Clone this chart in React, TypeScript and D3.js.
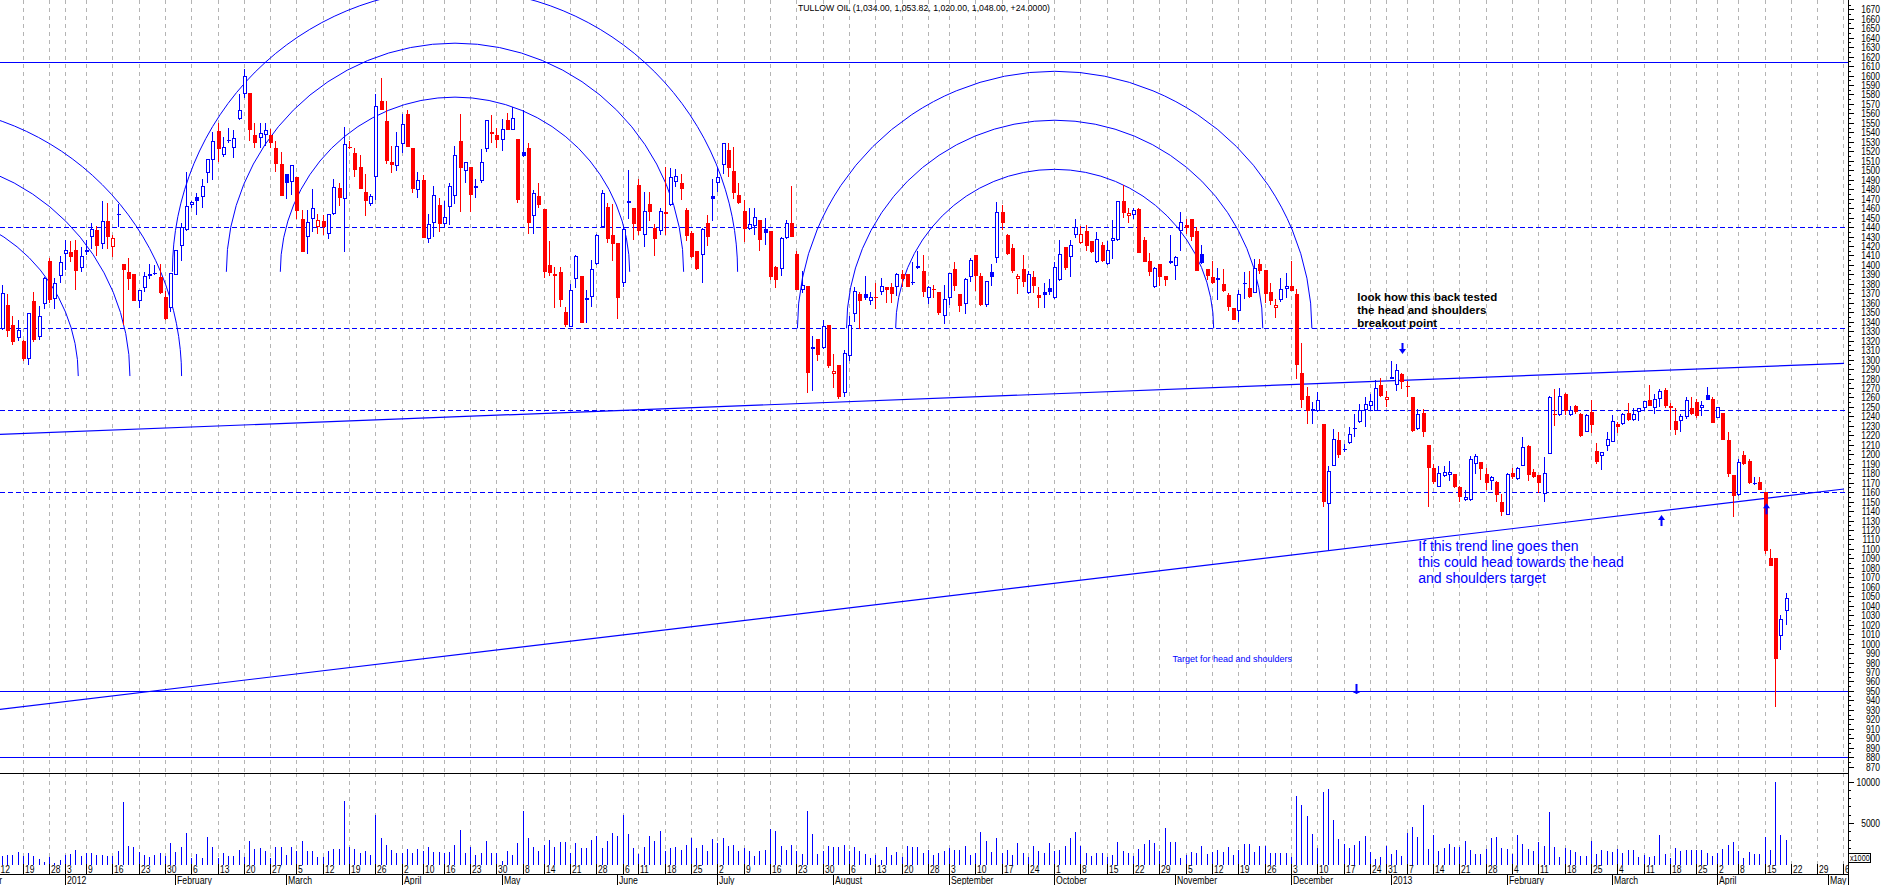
import React from 'react';
import * as d3 from 'd3';

const FONT = '"Liberation Sans", Arial, Helvetica, sans-serif';
const BLUE = '#0000ff';
const RED = '#ff0000';
const GRID = '#b4b4b4';

const TITLE = 'TULLOW OIL (1,034.00, 1,053.82, 1,020.00, 1,048.00, +24.0000)';
const FIRST_CANDLE_INDEX = 1; // index 0 = 12 Dec 2011
const ANCHOR_DATE = '2011-12-12';
const CALENDAR_START = '2011-12-01';
const CALENDAR_END = '2013-05-10';
const LAST_DATA_DATE = '2013-04-19';
const ukHolidays = ['2011-12-26', '2011-12-27', '2012-01-02', '2012-04-06', '2012-04-09', '2012-05-07', '2012-06-04', '2012-06-05', '2012-08-27', '2012-12-25', '2012-12-26', '2013-01-01', '2013-03-29', '2013-04-01'];
const monthNames = ['January', 'February', 'March', 'April', 'May', 'June', 'July', 'August', 'September', 'October', 'November', 'December'];

const opens = [1332,1358,1337,1323,1320,1301,1362,1324,1359,1404,1364,1388,1412,1414,1416,1397,1416,1429,1437,1422,1446,1419,1453,1401,1392,1390,1362,1376,1388,1390,1387,1366,1355,1389,1420,1437,1463,1472,1472,1497,1511,1541,1516,1531,1524,1554,1581,1582,1537,1534,1537,1537,1524,1507,1496,1488,1493,1449,1429,1448,1440,1446,1433,1454,1481,1470,1525,1518,1503,1477,1464,1493,1573,1552,1509,1504,1528,1559,1523,1479,1490,1427,1444,1463,1443,1461,1473,1531,1499,1503,1483,1489,1522,1540,1537,1532,1553,1543,1533,1519,1524,1452,1473,1459,1400,1388,1393,1350,1334,1385,1388,1363,1366,1401,1440,1461,1432,1423,1381,1465,1460,1484,1432,1464,1439,1436,1456,1463,1488,1487,1458,1434,1415,1410,1444,1473,1486,1505,1521,1499,1474,1457,1438,1441,1447,1438,1436,1398,1396,1428,1444,1412,1374,1378,1311,1322,1312,1337,1285,1294,1265,1304,1348,1369,1369,1362,1366,1371,1377,1377,1377,1390,1390,1381,1397,1394,1365,1375,1371,1346,1365,1396,1369,1359,1387,1410,1388,1358,1392,1407,1456,1432,1418,1385,1396,1370,1387,1368,1371,1376,1365,1384,1419,1408,1432,1423,1436,1425,1403,1421,1401,1425,1426,1468,1452,1453,1459,1426,1404,1377,1401,1388,1402,1399,1436,1442,1448,1436,1412,1396,1387,1384,1380,1368,1355,1351,1380,1376,1370,1401,1395,1371,1355,1363,1375,1378,1369,1286,1262,1246,1246,1232,1147,1188,1215,1205,1212,1227,1234,1247,1251,1246,1273,1257,1280,1273,1285,1272,1260,1227,1244,1210,1186,1165,1177,1178,1179,1165,1152,1152,1190,1192,1179,1172,1171,1150,1136,1180,1174,1188,1209,1181,1178,1158,1200,1242,1241,1264,1241,1251,1243,1224,1245,1203,1198,1209,1213,1232,1232,1244,1236,1245,1249,1257,1249,1258,1268,1251,1235,1235,1239,1249,1255,1249,1263,1258,1238,1244,1215,1178,1157,1199,1193,1170,1171,1160,1090,1090,1008,1034];
const highs = [1379,1369,1346,1342,1321,1349,1371,1357,1387,1407,1386,1409,1426,1425,1426,1419,1426,1444,1441,1468,1465,1432,1464,1401,1407,1390,1374,1393,1401,1400,1401,1372,1391,1416,1444,1498,1468,1476,1491,1512,1540,1550,1535,1545,1542,1580,1607,1582,1550,1550,1550,1544,1531,1519,1496,1505,1493,1458,1458,1480,1454,1453,1454,1491,1486,1546,1531,1523,1516,1496,1475,1580,1597,1573,1526,1540,1559,1564,1523,1498,1495,1454,1483,1471,1467,1486,1526,1559,1509,1503,1491,1522,1553,1558,1545,1554,1560,1567,1533,1564,1529,1479,1486,1459,1425,1398,1398,1356,1380,1410,1388,1374,1405,1433,1479,1465,1464,1423,1441,1500,1460,1491,1477,1477,1443,1460,1503,1502,1501,1496,1460,1436,1415,1439,1453,1491,1503,1529,1529,1525,1487,1469,1460,1460,1447,1450,1436,1399,1429,1447,1483,1415,1394,1378,1325,1322,1342,1337,1306,1294,1310,1346,1377,1371,1388,1371,1381,1386,1377,1381,1391,1395,1390,1403,1415,1410,1378,1379,1371,1379,1391,1403,1369,1386,1407,1410,1391,1383,1401,1466,1463,1433,1422,1390,1410,1394,1394,1377,1381,1385,1403,1426,1419,1426,1448,1441,1442,1425,1435,1424,1425,1447,1468,1484,1460,1460,1460,1429,1413,1398,1401,1388,1432,1409,1456,1448,1448,1440,1421,1396,1404,1397,1396,1370,1355,1374,1393,1394,1406,1406,1395,1381,1364,1386,1391,1404,1375,1317,1271,1255,1266,1232,1188,1227,1223,1211,1229,1243,1253,1260,1264,1278,1281,1267,1298,1295,1286,1277,1260,1248,1248,1210,1190,1188,1188,1193,1179,1166,1162,1198,1200,1192,1185,1177,1172,1158,1180,1185,1187,1218,1210,1184,1178,1197,1262,1269,1270,1265,1251,1252,1244,1242,1257,1212,1202,1223,1241,1234,1244,1254,1249,1249,1256,1273,1264,1269,1270,1254,1249,1242,1260,1260,1258,1256,1271,1260,1250,1244,1223,1178,1195,1203,1195,1176,1176,1160,1100,1090,1030,1053.82];
const lows = [1331,1324,1315,1320,1298,1294,1319,1321,1353,1360,1353,1381,1395,1403,1373,1393,1410,1417,1409,1417,1417,1408,1440,1337,1374,1362,1355,1371,1385,1389,1369,1342,1350,1389,1404,1436,1460,1453,1460,1486,1490,1509,1514,1529,1513,1553,1576,1531,1524,1523,1526,1523,1498,1473,1470,1474,1448,1414,1411,1435,1433,1432,1427,1453,1462,1414,1522,1493,1480,1452,1462,1469,1564,1507,1497,1499,1518,1525,1476,1471,1428,1423,1429,1435,1440,1442,1464,1456,1487,1456,1471,1487,1519,1529,1524,1520,1543,1543,1465,1514,1433,1433,1460,1386,1388,1355,1356,1334,1334,1376,1339,1339,1356,1400,1439,1423,1404,1343,1377,1449,1426,1432,1419,1446,1409,1432,1432,1462,1482,1469,1425,1407,1395,1381,1420,1446,1477,1496,1493,1470,1464,1424,1437,1432,1415,1421,1384,1376,1388,1427,1429,1374,1370,1265,1267,1298,1311,1291,1270,1258,1260,1298,1340,1332,1363,1358,1353,1368,1360,1360,1367,1377,1377,1379,1396,1366,1359,1365,1347,1338,1358,1372,1350,1348,1382,1372,1357,1356,1378,1402,1437,1410,1391,1369,1377,1369,1370,1354,1354,1368,1364,1383,1395,1387,1428,1422,1415,1413,1402,1403,1400,1406,1425,1450,1444,1448,1413,1403,1388,1376,1378,1378,1401,1384,1415,1433,1425,1394,1401,1384,1380,1363,1371,1351,1342,1340,1364,1365,1370,1390,1360,1358,1344,1361,1365,1372,1279,1249,1232,1232,1245,1144,1099,1188,1196,1202,1211,1218,1233,1229,1247,1246,1261,1250,1279,1267,1269,1260,1224,1226,1218,1144,1169,1165,1176,1172,1164,1150,1151,1151,1179,1173,1162,1162,1150,1135,1136,1174,1173,1188,1172,1175,1159,1150,1200,1230,1240,1241,1240,1243,1218,1223,1222,1190,1183,1203,1213,1222,1231,1235,1235,1235,1247,1251,1243,1250,1249,1226,1220,1224,1237,1241,1238,1240,1257,1233,1238,1215,1176,1134,1156,1189,1169,1168,1162,1095,1082,933,993,1020];
const closes = [1370,1330,1319,1331,1301,1349,1321,1346,1386,1363,1381,1403,1416,1408,1394,1409,1414,1438,1420,1446,1429,1428,1454,1395,1385,1362,1374,1388,1390,1391,1370,1343,1391,1416,1440,1462,1466,1467,1483,1512,1531,1522,1525,1532,1534,1564,1599,1542,1529,1539,1542,1529,1507,1473,1486,1505,1457,1414,1445,1460,1447,1440,1454,1482,1471,1528,1524,1500,1480,1468,1473,1568,1564,1510,1505,1526,1549,1525,1480,1490,1428,1443,1474,1443,1451,1483,1516,1502,1509,1474,1481,1509,1553,1538,1532,1544,1543,1555,1469,1515,1444,1476,1463,1393,1391,1390,1363,1337,1374,1409,1339,1365,1396,1432,1476,1427,1422,1365,1438,1468,1443,1436,1457,1456,1427,1457,1454,1493,1494,1480,1431,1408,1396,1438,1430,1470,1493,1529,1502,1476,1465,1438,1443,1451,1426,1434,1387,1384,1428,1444,1430,1374,1379,1286,1313,1305,1335,1293,1288,1260,1307,1336,1372,1362,1365,1366,1365,1378,1373,1369,1390,1385,1377,1382,1399,1371,1377,1373,1349,1364,1391,1378,1357,1385,1405,1388,1358,1383,1387,1456,1444,1411,1394,1388,1382,1390,1378,1365,1368,1371,1398,1411,1397,1421,1440,1433,1420,1414,1427,1404,1416,1428,1468,1455,1454.5,1458,1413,1403,1393,1397,1387,1384,1404,1408,1445,1439,1430,1394,1402,1388,1381,1386,1372,1356,1342,1369,1381,1366,1397,1394,1369,1362,1358,1375,1378,1372,1294,1257,1246,1248,1257,1150,1182,1216,1199,1206,1221,1228,1247,1253,1256,1270,1262,1260,1282,1289,1276,1271,1225,1243,1224,1186,1171,1180,1181,1181,1165,1155,1155,1195,1198,1184,1170,1176,1157,1139,1179,1176,1185,1208,1178,1176,1170,1180,1260,1241,1262,1246,1247,1245,1219,1241,1231,1192,1202,1216,1235,1229,1243,1236,1243,1249,1256,1251,1258,1267,1251,1249,1226,1240,1257,1242,1240,1252,1257,1233,1250,1215,1179,1156,1192,1190,1170,1170,1162,1098,1082,984,1026,1048];
const volumes = [985,1182,1182,1458,985,1379,985,709,300,867,200,600,1103,1261,1773,985,1340,1340,1182,1182,985,985,1576,7500,2285,2049,1458,1182,867,1182,1379,985,2561,1497,2049,3841,788,1261,800,3349,2167,788,1379,985,985,1773,867,2836,1891,1970,1655,788,2049,2049,1182,2167,1655,2836,1576,1655,867,867,1576,1891,1891,7700,2049,1891,1379,1655,1103,6000,3231,2364,1773,1379,1379,1891,1379,1891,1655,2049,1497,1497,1379,1497,2364,4137,1379,2049,1103,1379,2836,1379,1379,473,1655,1103,2561,6500,3231,2167,1576,2364,2955,2167,2679,2758,1379,2561,1970,1970,2955,3467,1970,2836,3841,3467,6000,3700,1970,1261,2167,3467,2836,4019,1576,1970,2167,1773,2364,3231,1970,2364,1576,3034,2561,3152,2285,2364,1655,1970,1576,985,1655,1773,4255,4019,2285,1773,2364,1655,1261,6500,3625,1300,1655,2285,2167,2049,2364,1655,2049,1576,1261,788,1103,591,2049,1103,1458,867,2285,2049,2167,1379,1773,1103,1379,1655,1970,1773,1773,2285,1103,1379,3940,2836,1497,3231,1379,1773,1103,2561,1379,867,2285,1576,1379,2561,1655,1773,2285,3152,3940,2285,1379,985,1379,1379,867,1103,2679,1655,1379,985,1891,2443,2955,2561,1655,4413,2679,2679,788,1182,1497,1379,2285,1261,1497,1773,1497,2049,1182,1773,2443,2443,1497,2244,2244,1428,1428,1428,1428,898,8242,7140,5794,3672,2000,8772,9098,5304,3060,2530,1958,2366,2774,3468,1550,612,900,2244,1306,1714,1020,3754,4570,3346,7140,1918,3590,1632,1958,2530,2122,2122,2774,1714,1306,1224,1918,3142,3264,1958,1836,1224,3590,2530,1836,1632,2652,2244,6324,2122,898,2040,1714,1550,1020,1020,2774,1224,1714,1632,1550,1836,1428,1714,1714,898,1142,898,1020,3590,1306,734,1958,1632,1714,1714,1714,1714,1428,1020,1400,1900,2300,2700,1600,800,1500,1300,1300,3300,1700,10000,3600,2900];

const priceLabelValues = d3.range(870, 1671, 10);
const volumeLabelValues = [5000, 10000];
const solidLevels = [1614, 950, 880];
const dashedLevels = [1440, 1333, 1247, 1160];
const trendLines = [
  [{ i: 0, p: 1220.9 }, { i: 351, p: 1296.0 }],
  [{ i: 0, p: 930.2 }, { i: 351, p: 1163.3 }],
];
const fibRatios = [0.382, 0.5, 0.618];
const fibArcs = [
  { i: -16.34, p: 1282.6, span: 83.2 },
  { i: 87.04, p: 1392.7, span: 86.9 },
  { i: 201.0, p: 1333.0, span: 79.1 },
];
const arrowMarks = [
  { i: 267.1, p: 1305.9, dir: 'down' },
  { i: 316.3, p: 1135.8, dir: 'up' },
  { i: 336.2, p: 1148.2, dir: 'up' },
];
const crossMarks = [{ i: 258.3, p: 950 }];
const noteBlack = { i: 258.5, p: 1362.4, lines: ['look how this back tested', 'the head and shoulders', 'breakout point'] };
const noteBlue = { i: 270.1, p: 1098.1, lines: ['If this trend line goes then', 'this could head towards the head', 'and shoulders target'] };
const noteTarget = { i: 223.4, p: 980.5, text: 'Target for head and shoulders' };

function buildCalendar() {
  const hol = new Set(ukHolidays);
  const days: { iso: string; date: Date; idx: number }[] = [];
  const d = new Date(CALENDAR_START + 'T00:00:00Z');
  const end = new Date(CALENDAR_END + 'T00:00:00Z');
  while (d.getTime() <= end.getTime()) {
    const dow = d.getUTCDay();
    const iso = d.toISOString().slice(0, 10);
    if (dow > 0 && dow < 6 && !(iso <= LAST_DATA_DATE && hol.has(iso))) {
      days.push({ iso, date: new Date(d.getTime()), idx: 0 });
    }
    d.setUTCDate(d.getUTCDate() + 1);
  }
  const k0 = days.findIndex((x) => x.iso === ANCHOR_DATE);
  days.forEach((x, k) => (x.idx = k - k0));
  return days;
}

export default function App() {
  const W = 1883;
  const H = 885;
  const axisX = 1848;
  const sepY = 773;
  const dayRowLine = 874;

  const x = d3.scaleLinear().domain([0, 351]).range([-3, 1843.96]);
  const y = d3.scaleLinear().domain([866.5, 1679.8]).range([770, 0]);
  const yv = d3.scaleLinear().domain([0, 10000]).range([864.5, 781.5]);
  const dayW = x(1) - x(0);

  const cal = buildCalendar();
  const weekKey = (dt: Date) => Math.floor((dt.getTime() / 86400000 + 3) / 7);
  const weekStarts = cal.filter((c, k) => k === 0 || weekKey(cal[k - 1].date) !== weekKey(c.date));
  const monthStarts = cal.filter((c, k) => k === 0 || cal[k - 1].date.getUTCMonth() !== c.date.getUTCMonth());

  const px = (i: number) => Math.floor(x(i));

  const candleEls: React.ReactNode[] = [];
  opens.forEach((o, k) => {
    const idx = k + FIRST_CANDLE_INDEX;
    const c = closes[k];
    const h = highs[k];
    const l = lows[k];
    const prev = k > 0 ? closes[k - 1] : o;
    const color = c >= prev ? BLUE : RED;
    const hollow = c > o;
    const r = px(idx);
    const yTop = Math.round(y(Math.max(o, c)));
    const yBot = Math.round(y(Math.min(o, c)));
    const yH = Math.round(y(h));
    const yL = Math.round(y(l));
    if (hollow && yBot - yTop >= 2) {
      candleEls.push(
        <g key={'c' + idx}>
          {yTop > yH && <rect x={r} y={yH} width={1} height={yTop - yH} fill={color} />}
          {yL > yBot && <rect x={r} y={yBot} width={1} height={yL - yBot} fill={color} />}
          <rect x={r - 0.5} y={yTop + 0.5} width={3} height={yBot - yTop - 1} fill="#ffffff" stroke={color} strokeWidth={1} />
        </g>
      );
    } else {
      candleEls.push(
        <g key={'c' + idx}>
          <rect x={r} y={yH} width={1} height={Math.max(1, yL - yH)} fill={color} />
          <rect x={r - 1} y={yTop} width={4} height={Math.max(1, yBot - yTop)} fill={color} />
        </g>
      );
    }
  });

  const volEls = volumes.map((v, k) => {
    const idx = k + FIRST_CANDLE_INDEX;
    const top = Math.round(yv(v));
    const base = Math.round(yv(0));
    return <rect key={'v' + idx} x={px(idx)} y={top} width={1} height={base - top} fill={BLUE} />;
  });

  const arcPaths: string[] = [];
  fibArcs.forEach((a) => {
    const cx = x(a.i);
    const cy = y(a.p);
    fibRatios.forEach((f) => {
      const rr = a.span * f * dayW;
      arcPaths.push(`M ${cx - rr} ${cy} A ${rr} ${rr} 0 0 1 ${cx + rr} ${cy}`);
    });
  });

  const hy = (p: number) => Math.round(y(p)) + 0.5;

  const smallText = (t: string, tx: number, ty: number, size: number, sx: number, anchor: string, key: string) => (
    <text key={key} transform={`translate(${tx},${ty}) scale(${sx},1)`} fontSize={size} textAnchor={anchor} fill="#000" fontFamily={FONT}>
      {t}
    </text>
  );

  // week labels: drop those entirely left of the plot, keep the first visible one inside the edge
  const weekLabels = weekStarts.filter((w) => px(w.idx) + 10 > 0);

  return (
    <svg width={W} height={H} style={{ position: 'absolute', left: 0, top: 0, background: '#fff' }} xmlns="http://www.w3.org/2000/svg">
      <defs>
        <clipPath id="pricePanel">
          <rect x={0} y={0} width={axisX} height={sepY} />
        </clipPath>
        <clipPath id="volPanel">
          <rect x={0} y={sepY} width={axisX} height={H - sepY} />
        </clipPath>
        <clipPath id="dateRows">
          <rect x={0} y={864} width={axisX} height={H - 864} />
        </clipPath>
      </defs>
      <rect x={0} y={0} width={W} height={H} fill="#ffffff" />

      {/* vertical dashed week grid */}
      <g clipPath="url(#volPanel)">
        {weekStarts.map((w) => (
          <line key={'gv' + w.iso} x1={px(w.idx) + 0.5} x2={px(w.idx) + 0.5} y1={sepY} y2={865} stroke={GRID} strokeDasharray="4,4" />
        ))}
      </g>
      <g clipPath="url(#pricePanel)">
        {weekStarts.map((w) => (
          <line key={'gp' + w.iso} x1={px(w.idx) + 0.5} x2={px(w.idx) + 0.5} y1={0} y2={sepY} stroke={GRID} strokeDasharray="4,4" />
        ))}
      </g>

      {/* price panel drawings */}
      <g clipPath="url(#pricePanel)">
        {solidLevels.map((p) => (
          <line key={'sl' + p} x1={0} x2={axisX} y1={hy(p)} y2={hy(p)} stroke={BLUE} strokeWidth={1} />
        ))}
        {dashedLevels.map((p) => (
          <line key={'dl' + p} x1={0} x2={axisX} y1={hy(p)} y2={hy(p)} stroke={BLUE} strokeWidth={1} strokeDasharray="5,3" />
        ))}
        {trendLines.map((t, k) => (
          <line key={'tl' + k} x1={x(t[0].i)} y1={y(t[0].p)} x2={x(t[1].i)} y2={y(t[1].p)} stroke={BLUE} strokeWidth={1.2} />
        ))}
        {arcPaths.map((d, k) => (
          <path key={'arc' + k} d={d} fill="none" stroke={BLUE} strokeWidth={1} />
        ))}
        <g shapeRendering="crispEdges">{candleEls}</g>
        {arrowMarks.map((a, k) => {
          const ax = px(a.i) + 0.5;
          const ty = y(a.p);
          const s = a.dir === 'down' ? -1 : 1;
          return (
            <g key={'ar' + k} fill={BLUE} stroke="none">
              <rect x={ax - 1} y={s < 0 ? ty - 11 : ty + 4} width={2} height={7} />
              <path d={`M ${ax - 3.5} ${ty + s * 5} L ${ax + 3.5} ${ty + s * 5} L ${ax} ${ty} Z`} />
            </g>
          );
        })}
        {crossMarks.map((c, k) => {
          const cx = px(c.i) + 0.5;
          const cy = y(c.p);
          return (
            <g key={'cm' + k} stroke={BLUE} strokeWidth={2}>
              <line x1={cx} x2={cx} y1={cy - 7} y2={cy + 3} />
              <line x1={cx - 3} x2={cx + 3} y1={cy + 1} y2={cy + 1} />
            </g>
          );
        })}
        {noteBlack.lines.map((t, k) => (
          <text key={'nb' + k} x={x(noteBlack.i)} y={y(noteBlack.p) + k * 13} fontSize={11.5} fontWeight="bold" fill="#000" fontFamily={FONT}>
            {t}
          </text>
        ))}
        {noteBlue.lines.map((t, k) => (
          <text key={'nu' + k} x={x(noteBlue.i)} y={y(noteBlue.p) + k * 16.3} fontSize={14} fill={BLUE} fontFamily={FONT}>
            {t}
          </text>
        ))}
        <text x={x(noteTarget.i)} y={y(noteTarget.p)} fontSize={9} fill={BLUE} fontFamily={FONT}>
          {noteTarget.text}
        </text>
        <text x={axisX / 2} y={11} fontSize={9} textAnchor="middle" fill="#000" fontFamily={FONT} textLength={252} lengthAdjust="spacingAndGlyphs">
          {TITLE}
        </text>
      </g>

      {/* volume bars */}
      <g clipPath="url(#volPanel)" shapeRendering="crispEdges">{volEls}</g>

      {/* frame lines */}
      <g shapeRendering="crispEdges" stroke="#000" strokeWidth={1}>
        <line x1={0} x2={axisX} y1={sepY + 0.5} y2={sepY + 0.5} />
        <line x1={0} x2={axisX} y1={dayRowLine + 0.5} y2={dayRowLine + 0.5} />
        <line x1={axisX + 0.5} x2={axisX + 0.5} y1={0} y2={H} />
      </g>

      {/* price & volume axis */}
      <g shapeRendering="crispEdges" stroke="#000">
        {d3.range(870, 1676, 5).map((v) => (
          <line key={'pt' + v} x1={axisX} x2={axisX + (v % 10 === 0 ? 6 : 3)} y1={hy(v)} y2={hy(v)} />
        ))}
        {d3.range(1000, 10001, 1000).map((v) => (
          <line key={'vt' + v} x1={axisX} x2={axisX + (v % 5000 === 0 ? 6 : 3)} y1={Math.round(yv(v)) + 0.5} y2={Math.round(yv(v)) + 0.5} />
        ))}
      </g>
      {priceLabelValues.map((v) => smallText(String(v), 1880, y(v) + 4, 11, 0.77, 'end', 'pl' + v))}
      {volumeLabelValues.map((v) => smallText(String(v), 1880, yv(v) + 4, 11, 0.77, 'end', 'vl' + v))}
      <rect x={axisX + 0.5} y={853.5} width={22} height={9} fill="#fff" stroke="#000" strokeWidth={1} shapeRendering="crispEdges" />
      {smallText('x1000', axisX + 2, 861, 8.5, 0.85, 'start', 'x1000')}

      {/* date axis */}
      <g clipPath="url(#dateRows)">
        <g shapeRendering="crispEdges" stroke="#000">
          {weekStarts.map((w) => (
            <line key={'dt' + w.iso} x1={px(w.idx) + 0.5} x2={px(w.idx) + 0.5} y1={864} y2={dayRowLine} />
          ))}
          {monthStarts.map((m) => (
            <line key={'mt' + m.iso} x1={px(m.idx) + 0.5} x2={px(m.idx) + 0.5} y1={dayRowLine} y2={H} />
          ))}
        </g>
        {weekLabels.map((w) => smallText(String(w.date.getUTCDate()), Math.max(0.5, px(w.idx) + 2), 872.5, 10, 0.85, 'start', 'dl' + w.iso))}
        {monthStarts.map((m) => {
          const mo = m.date.getUTCMonth();
          const label = mo === 0 ? String(m.date.getUTCFullYear()) : monthNames[mo];
          return smallText(label, px(m.idx) + 2, 883.5, 10, 0.87, 'start', 'ml' + m.iso);
        })}
      </g>
    </svg>
  );
}
